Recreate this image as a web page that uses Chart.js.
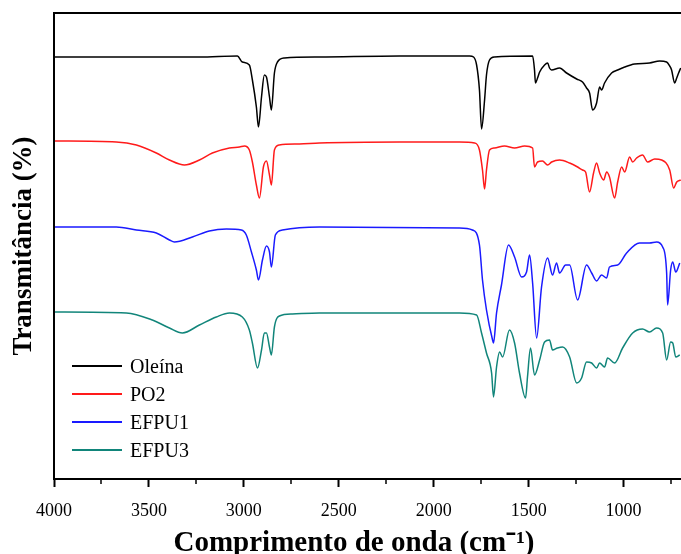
<!DOCTYPE html>
<html>
<head>
<meta charset="utf-8">
<script src="https://cdn.jsdelivr.net/npm/chart.js@4.4.0/dist/chart.umd.min.js"></script>
<style>
  html, body { margin: 0; padding: 0; background: #fff; }
  #wrap { position: relative; width: 681px; height: 554px; overflow: hidden; }
  #ftir { position: absolute; left: 0; top: 0; }
  #xTitle {
    position: absolute; left: 0; width: 708px; top: 520px; line-height: 34px; text-align: center;
    font: bold 29px "Liberation Serif", "Times New Roman", serif; color: #000;
  }
  #legend { position: absolute; left: 72px; top: 352px; font: 20px "Liberation Serif", serif; color: #000; }
  .lg-row { height: 28px; display: flex; align-items: center; }
  .lg-line { width: 50px; height: 1.5px; margin-right: 8px; }
</style>
</head>
<body>
<div id="wrap">
  <canvas id="ftir" width="692" height="554"></canvas>
  <div id="xTitle">Comprimento de onda (cm⁻¹)</div>
  <div id="legend"></div>
</div>
<script>
const seriesNames = ["Oleína", "PO2", "EFPU1", "EFPU3"];
const seriesColors = ["#000000", "#ff1a1a", "#1a1aff", "#11857a"];

const oleinaWave = [4000, 3761, 3234, 3034, 3008, 2971, 2955, 2934, 2923, 2907, 2892, 2881, 2865, 2855, 2839, 2823, 2786, 2602, 2180, 1811, 1790, 1774, 1759, 1748, 1732, 1722, 1706, 1680, 1479, 1469, 1464, 1453, 1442, 1416, 1400, 1390, 1379, 1337, 1300, 1247, 1216, 1195, 1179, 1163, 1142, 1126, 1116, 1100, 1063, 1031, 994, 942, 863, 810, 773, 757, 747, 731, 720, 710, 699];
const oleinaT = [422, 422, 422, 423, 417, 414, 399, 372, 352, 382, 404, 402, 382, 369, 406, 417, 421, 422, 423, 423, 422, 414, 389, 350, 379, 404, 419, 422, 423, 409, 396, 401, 407, 414, 416, 411, 409, 411, 406, 400, 397, 391, 386, 369, 376, 392, 389, 396, 406, 409, 412, 415, 416, 418, 417, 413, 409, 396, 401, 406, 411];

const po2Wave = [4000, 3672, 3566, 3461, 3392, 3313, 3234, 3166, 3076, 3023, 2997, 2971, 2955, 2934, 2918, 2897, 2881, 2865, 2855, 2839, 2813, 2707, 2602, 2180, 1864, 1785, 1759, 1743, 1732, 1722, 1706, 1680, 1627, 1574, 1521, 1479, 1469, 1453, 1427, 1400, 1379, 1337, 1284, 1242, 1216, 1200, 1179, 1158, 1142, 1126, 1105, 1089, 1074, 1047, 1031, 1010, 994, 968, 952, 931, 900, 873, 836, 799, 757, 736, 720, 699];
const po2T = [338, 337, 334, 326, 319, 314, 319, 326, 331, 332, 333, 329, 317, 294, 281, 312, 318, 304, 294, 329, 334, 335, 336, 337, 337, 336, 329, 309, 290, 309, 329, 331, 333, 331, 333, 331, 312, 317, 318, 314, 317, 319, 316, 312, 309, 307, 287, 306, 316, 306, 299, 307, 302, 281, 297, 312, 307, 322, 317, 321, 324, 317, 320, 319, 309, 291, 297, 299];

const efpu1Wave = [4000, 3672, 3566, 3461, 3392, 3366, 3271, 3182, 3092, 3013, 2987, 2960, 2934, 2923, 2902, 2881, 2865, 2855, 2834, 2797, 2602, 1864, 1796, 1759, 1743, 1722, 1690, 1685, 1669, 1643, 1606, 1574, 1537, 1511, 1495, 1479, 1458, 1432, 1400, 1374, 1353, 1337, 1305, 1284, 1242, 1195, 1168, 1142, 1116, 1089, 1074, 1031, 984, 916, 863, 826, 794, 773, 768, 752, 741, 725, 704];
const efpu1T = [252, 252, 249, 246, 239, 237, 242, 248, 250, 249, 244, 227, 209, 199, 219, 233, 227, 212, 244, 249, 252, 251, 249, 234, 199, 169, 139, 136, 166, 194, 234, 222, 202, 207, 224, 196, 141, 192, 221, 204, 216, 206, 214, 214, 179, 214, 206, 198, 204, 201, 212, 214, 226, 236, 236, 237, 232, 206, 174, 209, 217, 207, 216];

const efpu3Wave = [4000, 3619, 3482, 3392, 3324, 3234, 3145, 3076, 3008, 2971, 2955, 2928, 2907, 2892, 2881, 2865, 2855, 2839, 2813, 2744, 2602, 1864, 1774, 1748, 1722, 1695, 1685, 1669, 1653, 1637, 1601, 1574, 1548, 1516, 1506, 1490, 1469, 1442, 1416, 1390, 1374, 1348, 1321, 1284, 1247, 1221, 1195, 1168, 1142, 1126, 1100, 1084, 1047, 1005, 952, 900, 863, 826, 794, 773, 752, 741, 725, 704];
const efpu3T = [167, 166, 159, 151, 146, 154, 162, 166, 162, 149, 136, 111, 129, 146, 146, 132, 124, 152, 163, 165, 166, 166, 164, 146, 126, 106, 82, 112, 127, 122, 149, 136, 106, 81, 102, 131, 104, 119, 137, 139, 129, 131, 132, 122, 96, 101, 117, 116, 111, 116, 112, 121, 116, 131, 146, 150, 147, 151, 146, 119, 137, 136, 122, 124];

const xTicksMajor = [4000, 3500, 3000, 2500, 2000, 1500, 1000];
const xTicksMinor = [3750, 3250, 2750, 2250, 1750, 1250, 750];

const allWaves = [oleinaWave, po2Wave, efpu1Wave, efpu3Wave];
const allT = [oleinaT, po2T, efpu1T, efpu3T];

const serif = "'Liberation Serif', 'Times New Roman', serif";

// moldura + ticks menores
const framePlugin = {
    id: 'frame',
    afterDraw(chart) {
        const { ctx, chartArea } = chart;
        const xs = chart.scales.x;
        ctx.save();
        ctx.strokeStyle = '#000';
        ctx.lineWidth = 2;
        ctx.strokeRect(chartArea.left, chartArea.top, chartArea.right - chartArea.left, chartArea.bottom - chartArea.top);
        ctx.lineWidth = 1.5;
        xTicksMinor.forEach(v => {
            const px = Math.round(xs.getPixelForValue(v));
            ctx.beginPath();
            ctx.moveTo(px, chartArea.bottom);
            ctx.lineTo(px, chartArea.bottom + 5);
            ctx.stroke();
        });
        ctx.restore();
    }
};

const datasets = seriesNames.map((name, i) => ({
    label: name,
    data: allWaves[i].map((w, k) => ({ x: w, y: allT[i][k] })),
    borderColor: seriesColors[i],
    backgroundColor: seriesColors[i],
    borderWidth: 1.5,
    pointRadius: 0,
    fill: false,
    cubicInterpolationMode: 'monotone'
}));

new Chart(document.getElementById('ftir'), {
    type: 'line',
    data: { datasets },
    options: {
        responsive: false,
        animation: false,
        layout: { padding: { top: 13, right: 2, left: 0, bottom: 0 } },
        plugins: {
            legend: { display: false },
            tooltip: { enabled: false }
        },
        scales: {
            x: {
                type: 'linear',
                reverse: true,
                min: 650,
                max: 4000,
                afterBuildTicks: (axis) => { axis.ticks = xTicksMajor.map(v => ({ value: v })); },
                afterFit: (axis) => { axis.height = 75; },
                border: { display: true, color: '#000', width: 2 },
                grid: { display: true, drawOnChartArea: false, drawTicks: true, tickLength: 8, tickColor: '#000', tickWidth: 2 },
                ticks: {
                    autoSkip: false,
                    maxRotation: 0,
                    padding: 13,
                    color: '#000',
                    font: { family: serif, size: 18 },
                    callback: (v) => String(v)
                }
            },
            y: {
                min: 0,
                max: 466,
                afterFit: (axis) => { axis.width = 54; },
                border: { display: true, color: '#000', width: 2 },
                grid: { display: false },
                ticks: { display: false },
                title: {
                    display: true,
                    text: 'Transmitância (%)',
                    color: '#000',
                    padding: { top: 8, bottom: 0 },
                    font: { family: serif, size: 27, weight: 'bold' }
                }
            }
        }
    },
    plugins: [framePlugin]
});

// legenda
const legendBox = document.getElementById('legend');
seriesNames.forEach((name, i) => {
    const row = document.createElement('div');
    row.className = 'lg-row';
    row.innerHTML = `<span class="lg-line" style="background:${seriesColors[i]}"></span><span>${name}</span>`;
    legendBox.appendChild(row);
});
</script>
</body>
</html>
